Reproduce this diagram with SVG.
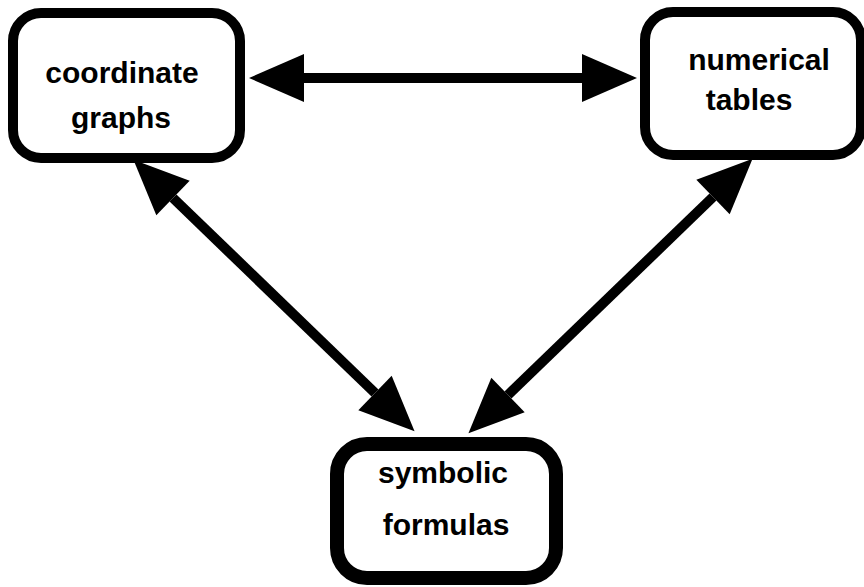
<svg xmlns="http://www.w3.org/2000/svg" width="864" height="587" viewBox="0 0 864 587">
<style>
.box{fill:#fff;stroke:#000;stroke-width:10}
.thick{stroke-width:14}
.lbl{font-family:"Liberation Sans",Arial,sans-serif;font-weight:bold;font-size:30px;fill:#000;text-anchor:middle}
.conn{stroke:#000;stroke-width:10;fill:none;marker-start:url(#head);marker-end:url(#head)}
</style>
<defs>
<marker id="head" markerUnits="userSpaceOnUse" markerWidth="60" markerHeight="52" refX="0" refY="25" orient="auto-start-reverse" viewBox="0 0 60 52" overflow="visible">
<path d="M0,1 L55,25 L0,49 Z" fill="#000"/>
</marker>
</defs>
<rect width="864" height="587" fill="#fff"/>
<g id="connectors">
<line class="conn" x1="304" y1="78" x2="582" y2="78"/>
<line class="conn" x1="173" y1="198" x2="375" y2="393"/>
<line class="conn" x1="713" y1="197" x2="508" y2="395"/>
</g>
<g id="coordinate-graphs">
<rect class="box" x="13" y="13" width="227" height="145" rx="28"/>
<text class="lbl" x="122" y="83">coordinate</text>
<text class="lbl" x="121" y="128">graphs</text>
</g>
<g id="numerical-tables">
<rect class="box" x="645" y="12" width="216" height="143" rx="28"/>
<text class="lbl" x="759" y="70">numerical</text>
<text class="lbl" x="749" y="110">tables</text>
</g>
<g id="symbolic-formulas">
<rect class="box thick" x="337" y="444" width="219" height="134" rx="30"/>
<text class="lbl" x="443" y="483">symbolic</text>
<text class="lbl" x="446" y="535">formulas</text>
</g>
</svg>
